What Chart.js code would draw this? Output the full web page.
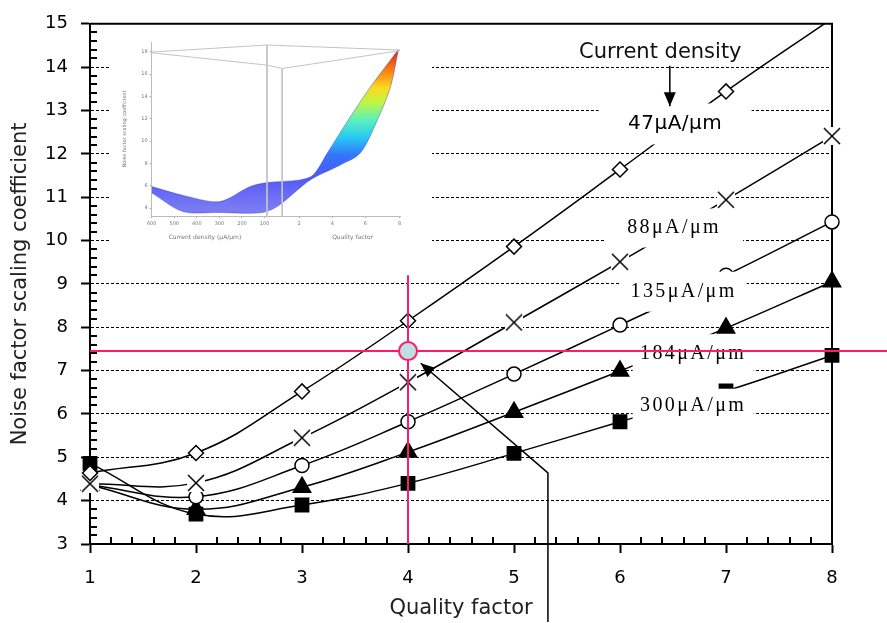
<!DOCTYPE html>
<html><head><meta charset="utf-8">
<script src="https://cdn.jsdelivr.net/npm/chart.js@4.4.1/dist/chart.umd.min.js"></script>
<style>
html,body{margin:0;padding:0;background:#fff;overflow:hidden;}
#wrap{position:relative;width:887px;height:623px;}
#main{position:absolute;left:0;top:0;}
#inset{position:absolute;left:110px;top:28px;background:#fff;filter:blur(0.7px);}
</style></head><body>
<div id="wrap"><canvas id="main" width="887" height="623"></canvas><canvas id="inset" width="322" height="216"></canvas></div>
<script>
// ---------- main chart data ----------
const qualityFactor = [1, 2, 3, 4, 5, 6, 7, 8];
const nf47  = [4.64, 5.10, 6.52, 8.15, 9.86, 11.64, 13.44, 15.12];
const nf88  = [4.39, 4.41, 5.45, 6.73, 8.11, 9.51, 10.94, 12.41];
const nf135 = [4.36, 4.09, 4.81, 5.82, 6.92, 8.05, 9.20, 10.43];
const nf184 = [4.36, 3.80, 4.31, 5.12, 6.04, 6.99, 7.98, 9.05];
const nf300 = [4.86, 3.69, 3.90, 4.40, 5.09, 5.82, 6.53, 7.35];

const densityLabels = ['47μA/μm', '88μA/μm', '135μA/μm', '184μA/μm', '300μA/μm'];
const densityLabelQ  = [6.52, 6.51, 6.60, 6.69, 6.69];
const densityLabelNF = [12.69, 10.29, 8.82, 7.39, 6.19];

const headingText = 'Current density';
const headingQ = 6.38, headingNF = 14.34;
const headingArrowQ  = [6.47, 6.47];
const headingArrowNF = [14.03, 13.10];

const crossQ = [4, 4];
const crossNFv = [3, 9.2];
const crossQh = [1, 8.6];
const crossNFh = [7.45, 7.45];
const markQ = 4, markNF = 7.45;

const pointerQ  = [5.32, 5.32, 4.12];
const pointerNF = [1.2, 4.64, 7.17];

// ---------- inset data ----------
const insetDensityTicks = ['600', '500', '400', '300', '200', '100'];
const insetQualityTicks = ['2', '4', '6', '8'];
const insetTickPos = [0, 1, 2, 3, 4, 5, 6.53, 8.0, 9.47, 10.98];
const insetNFTicks = [4, 6, 8, 10, 12, 14, 16, 18];
const insetBackX  = [0, 1.47, 3.02, 4.36, 5.11, 6.58, 7.16, 7.78, 8.71, 9.69, 10.93];
const insetBackNF = [5.93, 5.10, 4.59, 5.93, 6.29, 6.53, 6.98, 8.93, 11.9, 14.85, 18.2];
const insetFrontX  = [0, 1.38, 3.02, 4.8, 5.56, 7.02, 8.36, 9.24, 10.0, 10.58, 10.93];
const insetFrontNF = [5.37, 3.70, 3.62, 3.58, 4.14, 6.53, 7.87, 8.93, 11.9, 14.85, 18.2];
const frameAX = [0, 5.11, 11.02], frameANF = [17.97, 18.6, 18.15];
const frameBX = [0, 5.11, 5.78, 11.02], frameBNF = [17.9, 16.8, 16.5, 18.1];
const frameV1X = [5.11, 5.11], frameV1NF = [18.6, 3.3];
const frameV2X = [5.78, 5.78], frameV2NF = [16.5, 3.3];

// ---------- helpers ----------
const PINK = '#ff1a6a';
const xy = (xs, ys) => xs.map((x, i) => ({x: x, y: ys[i]}));

function makeCross(size) {
  const c = document.createElement('canvas');
  c.width = size; c.height = size;
  const g = c.getContext('2d');
  g.fillStyle = '#fff'; g.fillRect(0, 0, size, size);
  g.strokeStyle = '#000'; g.lineWidth = 1.5;
  g.beginPath();
  g.moveTo(1, 1); g.lineTo(size - 1, size - 1);
  g.moveTo(size - 1, 1); g.lineTo(1, size - 1);
  g.stroke();
  return c;
}
const crossImg = makeCross(18);

function series(label, values, style) {
  return Object.assign({
    label: label,
    data: xy(qualityFactor, values),
    borderColor: '#000', borderWidth: 1.5, tension: 0.4, fill: false, order: 3,
    clip: {left: 14, right: 14, top: 0, bottom: 14},
    pointBorderColor: '#000', pointBorderWidth: 1.5
  }, style);
}

const labelStyles = [
  {font: '20px "DejaVu Sans"', spacing: '0.5px', w: 153, h: 41},
  {font: '20px "Liberation Serif"', spacing: '2.4px', w: 138, h: 39},
  {font: '20px "Liberation Serif"', spacing: '2.4px', w: 126, h: 40},
  {font: '20px "Liberation Serif"', spacing: '2.4px', w: 121, h: 39},
  {font: '20px "Liberation Serif"', spacing: '2.4px', w: 121, h: 34}
];

let labelsDrawn = false;
function drawLabels(chart) {
  const {ctx, scales} = chart;
  ctx.save();
  densityLabels.forEach((t, i) => {
    const st = labelStyles[i];
    const px = scales.x.getPixelForValue(densityLabelQ[i]);
    const py = scales.y.getPixelForValue(densityLabelNF[i]);
    ctx.fillStyle = '#fff';
    ctx.fillRect(px - st.w / 2, py - st.h / 2, st.w, st.h);
    ctx.fillStyle = '#000';
    ctx.font = st.font;
    try { ctx.letterSpacing = st.spacing; } catch (e) {}
    ctx.textAlign = 'center'; ctx.textBaseline = 'middle';
    ctx.fillText(t, px, py);
  });
  try { ctx.letterSpacing = '0px'; } catch (e) {}
  ctx.restore();
}

const overlayPlugin = {
  id: 'overlay',
  beforeDatasetsDraw(chart) {
    const {ctx, chartArea: a, scales} = chart;
    ctx.save();
    ctx.strokeStyle = '#000'; ctx.lineWidth = 2;
    ctx.beginPath();
    ctx.moveTo(a.left, a.top); ctx.lineTo(a.right, a.top); ctx.lineTo(a.right, a.bottom);
    ctx.stroke();
    // minor ticks (inside)
    ctx.beginPath();
    for (let i = 1; i < 60; i++) {
      if (i % 5 === 0) continue;
      const py = Math.round(scales.y.getPixelForValue(3 + i * 0.2));
      ctx.moveTo(a.left, py); ctx.lineTo(a.left + 7, py);
    }
    for (let i = 1; i < 35; i++) {
      if (i % 5 === 0) continue;
      const px = Math.round(scales.x.getPixelForValue(1 + i * 0.2));
      ctx.moveTo(px, a.bottom); ctx.lineTo(px, a.bottom - 7);
    }
    ctx.stroke();
    ctx.restore();
    labelsDrawn = false;
  },
  beforeDatasetDraw(chart, args) {
    if (!labelsDrawn && chart.data.datasets[args.index].overlay) {
      drawLabels(chart);
      labelsDrawn = true;
    }
  },
  afterDatasetsDraw(chart) {
    const {ctx, scales} = chart;
    ctx.save();
    chart.data.datasets.forEach((ds, i) => {
      if (!ds.arrow) return;
      const pts = chart.getDatasetMeta(i).data;
      const p1 = pts[pts.length - 2], p2 = pts[pts.length - 1];
      const ang = Math.atan2(p2.y - p1.y, p2.x - p1.x);
      const L = 14, W = 6;
      const bx = p2.x - L * Math.cos(ang), by = p2.y - L * Math.sin(ang);
      ctx.fillStyle = '#000';
      ctx.beginPath();
      ctx.moveTo(p2.x, p2.y);
      ctx.lineTo(bx + W * Math.sin(ang), by - W * Math.cos(ang));
      ctx.lineTo(bx - W * Math.sin(ang), by + W * Math.cos(ang));
      ctx.closePath(); ctx.fill();
    });
    ctx.fillStyle = '#111';
    ctx.font = '21px "DejaVu Sans"';
    ctx.textAlign = 'center'; ctx.textBaseline = 'middle';
    ctx.fillText(headingText, scales.x.getPixelForValue(headingQ), scales.y.getPixelForValue(headingNF));
    ctx.restore();
  }
};

new Chart(document.getElementById('main'), {
  type: 'line',
  data: {
    datasets: [
      series(densityLabels[0], nf47, {pointStyle: 'rectRot', pointRadius: qualityFactor.map(q => q < 8 ? 7.5 : 0), pointBackgroundColor: '#fff'}),
      series(densityLabels[1], nf88, {pointStyle: crossImg, pointRadius: 9}),
      series(densityLabels[2], nf135, {pointStyle: 'circle', pointRadius: 7, pointBackgroundColor: '#fff'}),
      series(densityLabels[3], nf184, {pointStyle: 'triangle', pointRadius: 10, pointBackgroundColor: '#000'}),
      series(densityLabels[4], nf300, {pointStyle: 'rect', pointRadius: 9.4, pointBackgroundColor: '#000'}),
      {data: xy(crossQ, crossNFv), borderColor: PINK, borderWidth: 2, pointRadius: 0, tension: 0, clip: false, order: 2, overlay: true},
      {data: xy(crossQh, crossNFh), borderColor: PINK, borderWidth: 2, pointRadius: 0, tension: 0, clip: false, order: 2, overlay: true},
      {data: [{x: markQ, y: markNF}], showLine: false, pointRadius: 9, pointBackgroundColor: '#bcdfe2', pointBorderColor: PINK, pointBorderWidth: 2, order: 1},
      {data: xy(pointerQ, pointerNF), borderColor: '#000', borderWidth: 1.5, pointRadius: 0, tension: 0, clip: false, order: 0, arrow: true},
      {data: xy(headingArrowQ, headingArrowNF), borderColor: '#000', borderWidth: 1.5, pointRadius: 0, tension: 0, clip: false, order: 0, arrow: true}
    ]
  },
  options: {
    responsive: false, animation: false, devicePixelRatio: 1, events: [],
    layout: {padding: {left: 0, top: 14, right: 55, bottom: 0}},
    plugins: {legend: {display: false}, tooltip: {enabled: false}},
    scales: {
      x: {
        type: 'linear', min: 1, max: 8,
        ticks: {stepSize: 1, font: {family: 'DejaVu Sans', size: 18}, color: '#000', padding: 15},
        grid: {drawOnChartArea: false, tickLength: 9, tickWidth: 2, tickColor: '#000'},
        border: {color: '#000', width: 2},
        title: {display: true, text: 'Quality factor', font: {family: 'DejaVu Sans', size: 21}, color: '#222', padding: {top: 0, bottom: 2}},
        afterFit: s => { s.height = 79; }
      },
      y: {
        type: 'linear', min: 3, max: 15,
        ticks: {stepSize: 1, font: {family: 'DejaVu Sans', size: 18}, color: '#000', padding: 13},
        grid: {color: '#000', lineWidth: 1, tickLength: 9, tickWidth: 2, tickColor: '#000', tickBorderDash: []},
        border: {color: '#000', width: 2, dash: [3, 2]},
        title: {display: true, text: 'Noise factor scaling coefficient', font: {family: 'DejaVu Sans', size: 21}, color: '#222', padding: {top: 8, bottom: 0}},
        afterFit: s => { s.width = 90; }
      }
    }
  },
  plugins: [overlayPlugin]
});

// ---------- inset ----------
function surfaceFill(context) {
  const chart = context.chart;
  if (!chart.chartArea || !chart.scales.y) return 'rgba(80,80,235,0.75)';
  const y = chart.scales.y;
  const g = chart.ctx.createLinearGradient(0, y.getPixelForValue(4), 0, y.getPixelForValue(18.3));
  g.addColorStop(0, 'rgba(85,85,240,0.78)');
  g.addColorStop(0.2, 'rgba(60,70,245,0.9)');
  g.addColorStop(0.33, 'rgba(40,110,250,0.95)');
  g.addColorStop(0.44, 'rgba(40,200,245,1)');
  g.addColorStop(0.55, 'rgba(90,240,190,1)');
  g.addColorStop(0.66, 'rgba(190,245,70,1)');
  g.addColorStop(0.75, 'rgba(250,220,30,1)');
  g.addColorStop(0.86, 'rgba(250,130,20,1)');
  g.addColorStop(1, 'rgba(225,30,15,1)');
  return g;
}
const frameLine = (xs, ys) => ({data: xy(xs, ys), borderColor: '#c4c4c4', borderWidth: 1, pointRadius: 0, tension: 0, fill: false});

const insetTitlesPlugin = {
  id: 'insetTitles',
  afterDraw(chart) {
    const {ctx, scales} = chart;
    ctx.save();
    ctx.fillStyle = '#777';
    ctx.font = '6px "DejaVu Sans"';
    ctx.textAlign = 'center'; ctx.textBaseline = 'middle';
    const yb = chart.chartArea.bottom + 21;
    ctx.fillText('Current density (μA/μm)', scales.x.getPixelForValue(2.36), yb);
    ctx.fillText('Quality factor', scales.x.getPixelForValue(8.9), yb);
    ctx.restore();
  }
};

new Chart(document.getElementById('inset'), {
  type: 'line',
  data: {
    datasets: [
      frameLine(frameAX, frameANF),
      frameLine(frameBX, frameBNF),
      frameLine(frameV1X, frameV1NF),
      frameLine(frameV2X, frameV2NF),
      {data: xy(insetBackX, insetBackNF), borderColor: 'rgba(50,50,200,0.5)', borderWidth: 0.8, pointRadius: 0, tension: 0.3, fill: false},
      {data: xy(insetFrontX, insetFrontNF), borderColor: 'rgba(50,50,200,0.5)', borderWidth: 0.8, pointRadius: 0, tension: 0.3, fill: '-1', backgroundColor: surfaceFill}
    ]
  },
  options: {
    responsive: false, animation: false, devicePixelRatio: 1, events: [],
    layout: {padding: {left: 0, top: 14, right: 32, bottom: 0}},
    plugins: {legend: {display: false}, tooltip: {enabled: false}},
    scales: {
      x: {
        type: 'linear', min: 0, max: 11,
        afterBuildTicks: s => { s.ticks = insetTickPos.map(v => ({value: v})); },
        ticks: {autoSkip: false, maxRotation: 0, font: {family: 'DejaVu Sans', size: 5}, color: '#777', padding: 3,
                callback: (v, i) => insetDensityTicks.concat(insetQualityTicks)[i]},
        grid: {drawOnChartArea: false, tickLength: 2, color: '#aaa'},
        border: {color: '#bbb', width: 1},
        afterFit: s => { s.height = 28; }
      },
      y: {
        type: 'linear', min: 3.3, max: 18.87,
        afterBuildTicks: s => { s.ticks = insetNFTicks.map(v => ({value: v})); },
        ticks: {font: {family: 'DejaVu Sans', size: 5}, color: '#777', padding: 2},
        grid: {drawOnChartArea: false, tickLength: 2, color: '#aaa'},
        border: {color: '#bbb', width: 1},
        title: {display: true, text: 'Noise factor scaling coefficient', font: {family: 'DejaVu Sans', size: 5}, color: '#777', padding: {top: 12, bottom: 0}},
        afterFit: s => { s.width = 41.7; }
      }
    }
  },
  plugins: [insetTitlesPlugin]
});
</script>
</body></html>
